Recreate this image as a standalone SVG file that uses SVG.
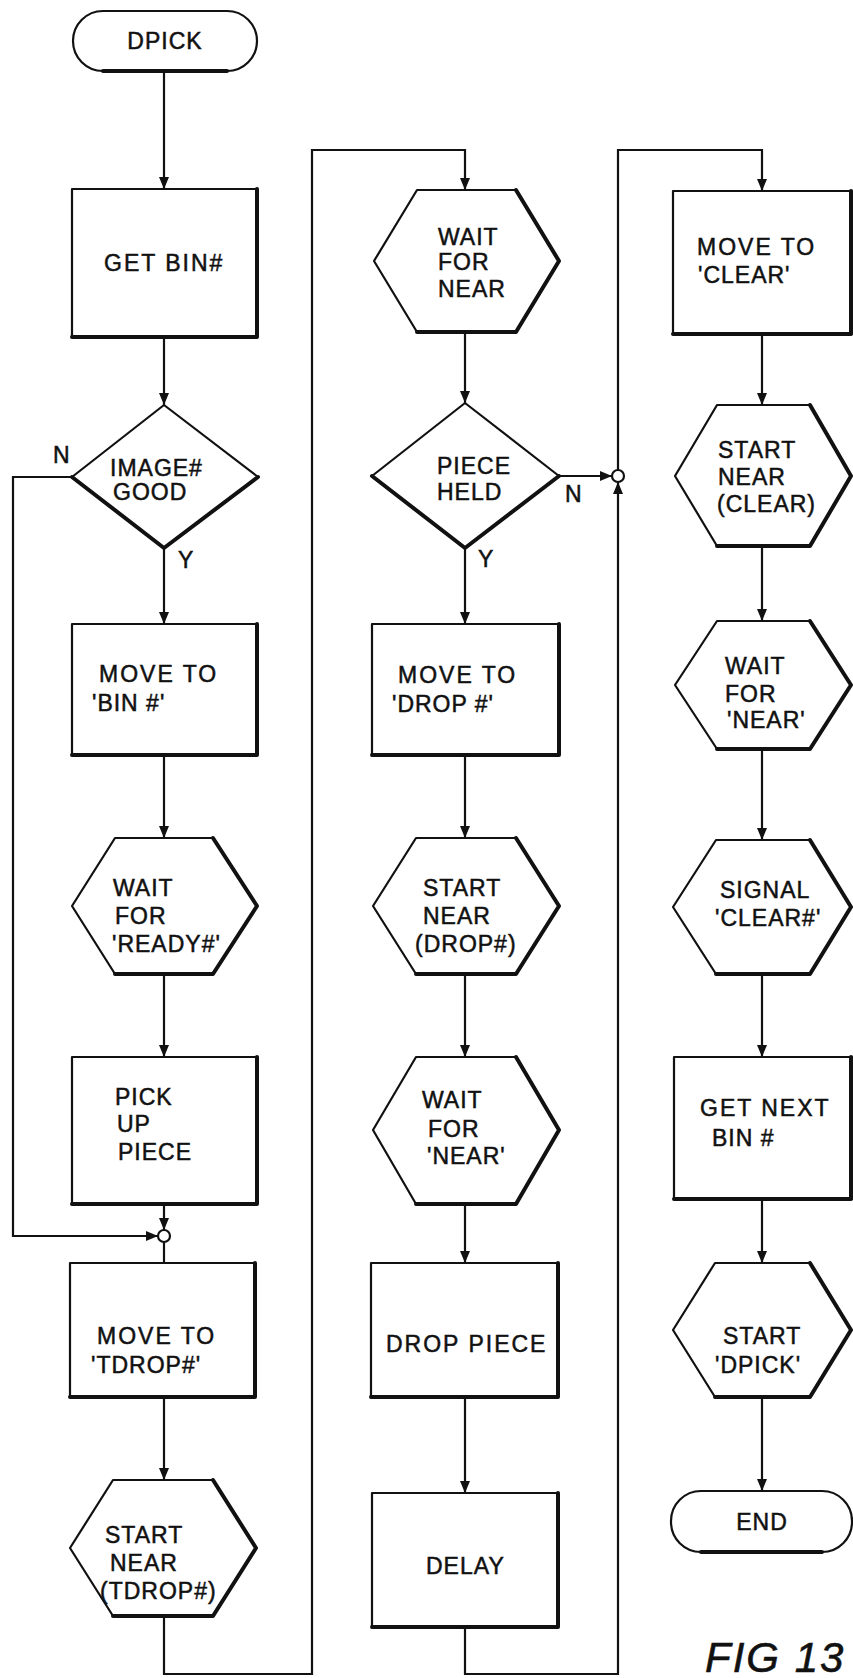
<svg xmlns="http://www.w3.org/2000/svg" width="853" height="1678" viewBox="0 0 853 1678">
<style>
.s{fill:#fff;stroke:#111;stroke-width:2.2;stroke-linejoin:round}
.h{fill:none;stroke:#111;stroke-width:4;stroke-linejoin:round;stroke-linecap:round}
.c{fill:none;stroke:#111;stroke-width:2.2}
.t{font-family:"Liberation Sans",Arial,sans-serif;font-size:23px;letter-spacing:1px;fill:#111;stroke:#111;stroke-width:0.5}
.m{text-anchor:middle}
.fig{font-family:"Liberation Sans",Arial,sans-serif;font-size:42px;font-style:italic;letter-spacing:2px;fill:#111;stroke:#111;stroke-width:0.6}
</style>
<defs>
<marker id="a" markerUnits="userSpaceOnUse" markerWidth="13" markerHeight="11" refX="12" refY="5" orient="auto">
<path d="M0,0 L12,5 L0,10 z" fill="#111"/>
</marker>
</defs>
<rect x="0" y="0" width="853" height="1678" fill="#fff"/>
<g id="connectors">
<path class="c" d="M164,71 V189" marker-end="url(#a)"/>
<path class="c" d="M164,337 V405" marker-end="url(#a)"/>
<path class="c" d="M164,548 V624" marker-end="url(#a)"/>
<path class="c" d="M164,755 V838" marker-end="url(#a)"/>
<path class="c" d="M164,974 V1057" marker-end="url(#a)"/>
<path class="c" d="M164,1204 V1230" marker-end="url(#a)"/>
<path class="c" d="M72,477 H13 V1236 H158" marker-end="url(#a)"/>
<path class="c" d="M164,1242 V1263"/>
<path class="c" d="M164,1397 V1480" marker-end="url(#a)"/>
<path class="c" d="M164,1616 V1674 H312 V150 H465 V190" marker-end="url(#a)"/>
<path class="c" d="M465,332 V403" marker-end="url(#a)"/>
<path class="c" d="M465,548 V624" marker-end="url(#a)"/>
<path class="c" d="M465,755 V838" marker-end="url(#a)"/>
<path class="c" d="M465,974 V1057" marker-end="url(#a)"/>
<path class="c" d="M465,1204 V1263" marker-end="url(#a)"/>
<path class="c" d="M465,1397 V1493" marker-end="url(#a)"/>
<path class="c" d="M465,1627 V1674 H618 V482" marker-end="url(#a)"/>
<path class="c" d="M559,476 H612" marker-end="url(#a)"/>
<path class="c" d="M618,470 V150 H762 V191" marker-end="url(#a)"/>
<path class="c" d="M762,334 V405" marker-end="url(#a)"/>
<path class="c" d="M762,546 V621" marker-end="url(#a)"/>
<path class="c" d="M762,749 V840" marker-end="url(#a)"/>
<path class="c" d="M762,974 V1057" marker-end="url(#a)"/>
<path class="c" d="M762,1199 V1263" marker-end="url(#a)"/>
<path class="c" d="M762,1397 V1491" marker-end="url(#a)"/>
<circle class="s" cx="164" cy="1236" r="6"/>
<circle class="s" cx="618" cy="476" r="6"/>
<text class="t" x="53" y="463">N</text>
<text class="t" x="178" y="568">Y</text>
<text class="t" x="565" y="502">N</text>
<text class="t" x="478" y="567">Y</text>
</g>
<g id="n-dpick">
<rect class="s" x="73" y="11" width="184" height="60" rx="30"/>
<path class="h" d="M103,71 H227"/>
<text class="t m" x="165" y="49">DPICK</text>
</g>
<g id="n-getbin">
<rect class="s" x="72" y="189" width="185" height="148"/>
<path class="h" d="M257,189 V337 H72"/>
<text class="t" x="104" y="271" style="letter-spacing:2px">GET BIN#</text>
</g>
<g id="n-imagegood">
<polygon class="s" points="164,405 258,477 164,548 72,477"/>
<path class="h" d="M72,477 L164,548 L258,477"/>
<text class="t" x="110" y="476">IMAGE#</text>
<text class="t" x="113" y="500">GOOD</text>
</g>
<g id="n-movebin">
<rect class="s" x="72" y="624" width="185" height="131"/>
<path class="h" d="M257,624 V755 H72"/>
<text class="t" x="99" y="682" style="letter-spacing:2px">MOVE  TO</text>
<text class="t" x="92" y="711">'BIN #'</text>
</g>
<g id="n-waitready">
<polygon class="s" points="115,838 213,838 257,906 213,974 115,974 72,906"/>
<path class="h" d="M213,838 L257,906 L213,974 H115"/>
<text class="t" x="113" y="896">WAIT</text>
<text class="t" x="115" y="924">FOR</text>
<text class="t" x="112" y="952">'READY#'</text>
</g>
<g id="n-pickup">
<rect class="s" x="72" y="1057" width="185" height="147"/>
<path class="h" d="M257,1057 V1204 H72"/>
<text class="t" x="115" y="1105">PICK</text>
<text class="t" x="117" y="1132">UP</text>
<text class="t" x="118" y="1160">PIECE</text>
</g>
<g id="n-movetdrop">
<rect class="s" x="70" y="1263" width="185" height="134"/>
<path class="h" d="M255,1263 V1397 H70"/>
<text class="t" x="97" y="1344" style="letter-spacing:2px">MOVE  TO</text>
<text class="t" x="91" y="1373">'TDROP#'</text>
</g>
<g id="n-startnear-tdrop">
<polygon class="s" points="113,1480 213,1480 256,1548 213,1616 113,1616 70,1548"/>
<path class="h" d="M213,1480 L256,1548 L213,1616 H113"/>
<text class="t" x="105" y="1543">START</text>
<text class="t" x="110" y="1571">NEAR</text>
<text class="t" x="100" y="1599">(TDROP#)</text>
</g>
<g id="n-waitnear">
<polygon class="s" points="417,190 516,190 559,261 516,332 417,332 374,261"/>
<path class="h" d="M516,190 L559,261 L516,332 H417"/>
<text class="t" x="438" y="245">WAIT</text>
<text class="t" x="438" y="270">FOR</text>
<text class="t" x="438" y="297">NEAR</text>
</g>
<g id="n-pieceheld">
<polygon class="s" points="465,403 559,476 465,548 372,476"/>
<path class="h" d="M372,476 L465,548 L559,476"/>
<text class="t" x="437" y="474">PIECE</text>
<text class="t" x="437" y="500">HELD</text>
</g>
<g id="n-movedrop">
<rect class="s" x="372" y="624" width="187" height="131"/>
<path class="h" d="M559,624 V755 H372"/>
<text class="t" x="398" y="683" style="letter-spacing:2px">MOVE  TO</text>
<text class="t" x="392" y="712">'DROP #'</text>
</g>
<g id="n-startnear-drop">
<polygon class="s" points="416,838 516,838 559,906 516,974 416,974 373,906"/>
<path class="h" d="M516,838 L559,906 L516,974 H416"/>
<text class="t" x="423" y="896">START</text>
<text class="t" x="423" y="924">NEAR</text>
<text class="t" x="415" y="952">(DROP#)</text>
</g>
<g id="n-waitnear2">
<polygon class="s" points="416,1057 516,1057 559,1130 516,1204 416,1204 373,1130"/>
<path class="h" d="M516,1057 L559,1130 L516,1204 H416"/>
<text class="t" x="422" y="1108">WAIT</text>
<text class="t" x="428" y="1137">FOR</text>
<text class="t" x="427" y="1164">'NEAR'</text>
</g>
<g id="n-droppiece">
<rect class="s" x="371" y="1263" width="187" height="134"/>
<path class="h" d="M558,1263 V1397 H371"/>
<text class="t" x="386" y="1352" style="letter-spacing:2px">DROP PIECE</text>
</g>
<g id="n-delay">
<rect class="s" x="372" y="1493" width="186" height="134"/>
<path class="h" d="M558,1493 V1627 H372"/>
<text class="t" x="426" y="1574">DELAY</text>
</g>
<g id="n-moveclear">
<rect class="s" x="673" y="191" width="179" height="143"/>
<path class="h" d="M851,191 V334 H673"/>
<text class="t" x="697" y="255" style="letter-spacing:2px">MOVE  TO</text>
<text class="t" x="698" y="283">'CLEAR'</text>
</g>
<g id="n-startnear-clear">
<polygon class="s" points="717,405 810,405 851,476 810,546 717,546 675,476"/>
<path class="h" d="M810,405 L851,476 L810,546 H717"/>
<text class="t" x="718" y="458">START</text>
<text class="t" x="718" y="485">NEAR</text>
<text class="t" x="717" y="512">(CLEAR)</text>
</g>
<g id="n-waitnear3">
<polygon class="s" points="717,621 810,621 851,685 810,749 717,749 675,685"/>
<path class="h" d="M810,621 L851,685 L810,749 H717"/>
<text class="t" x="725" y="674">WAIT</text>
<text class="t" x="725" y="702">FOR</text>
<text class="t" x="727" y="728">'NEAR'</text>
</g>
<g id="n-signal">
<polygon class="s" points="716,840 810,840 851,907 810,974 716,974 673,907"/>
<path class="h" d="M810,840 L851,907 L810,974 H716"/>
<text class="t" x="720" y="898">SIGNAL</text>
<text class="t" x="715" y="926">'CLEAR#'</text>
</g>
<g id="n-getnext">
<rect class="s" x="674" y="1057" width="178" height="142"/>
<path class="h" d="M851,1057 V1199 H674"/>
<text class="t" x="700" y="1116" style="letter-spacing:2px">GET NEXT</text>
<text class="t" x="712" y="1146">BIN #</text>
</g>
<g id="n-startdpick">
<polygon class="s" points="715,1263 810,1263 851,1330 810,1397 715,1397 673,1330"/>
<path class="h" d="M810,1263 L851,1330 L810,1397 H715"/>
<text class="t" x="723" y="1344">START</text>
<text class="t" x="715" y="1373">'DPICK'</text>
</g>
<g id="n-end">
<rect class="s" x="671" y="1491" width="181" height="61" rx="30"/>
<path class="h" d="M701,1552 H822"/>
<text class="t m" x="762" y="1530">END</text>
</g>
<text class="fig" x="705" y="1672">FIG 13</text>
</svg>
